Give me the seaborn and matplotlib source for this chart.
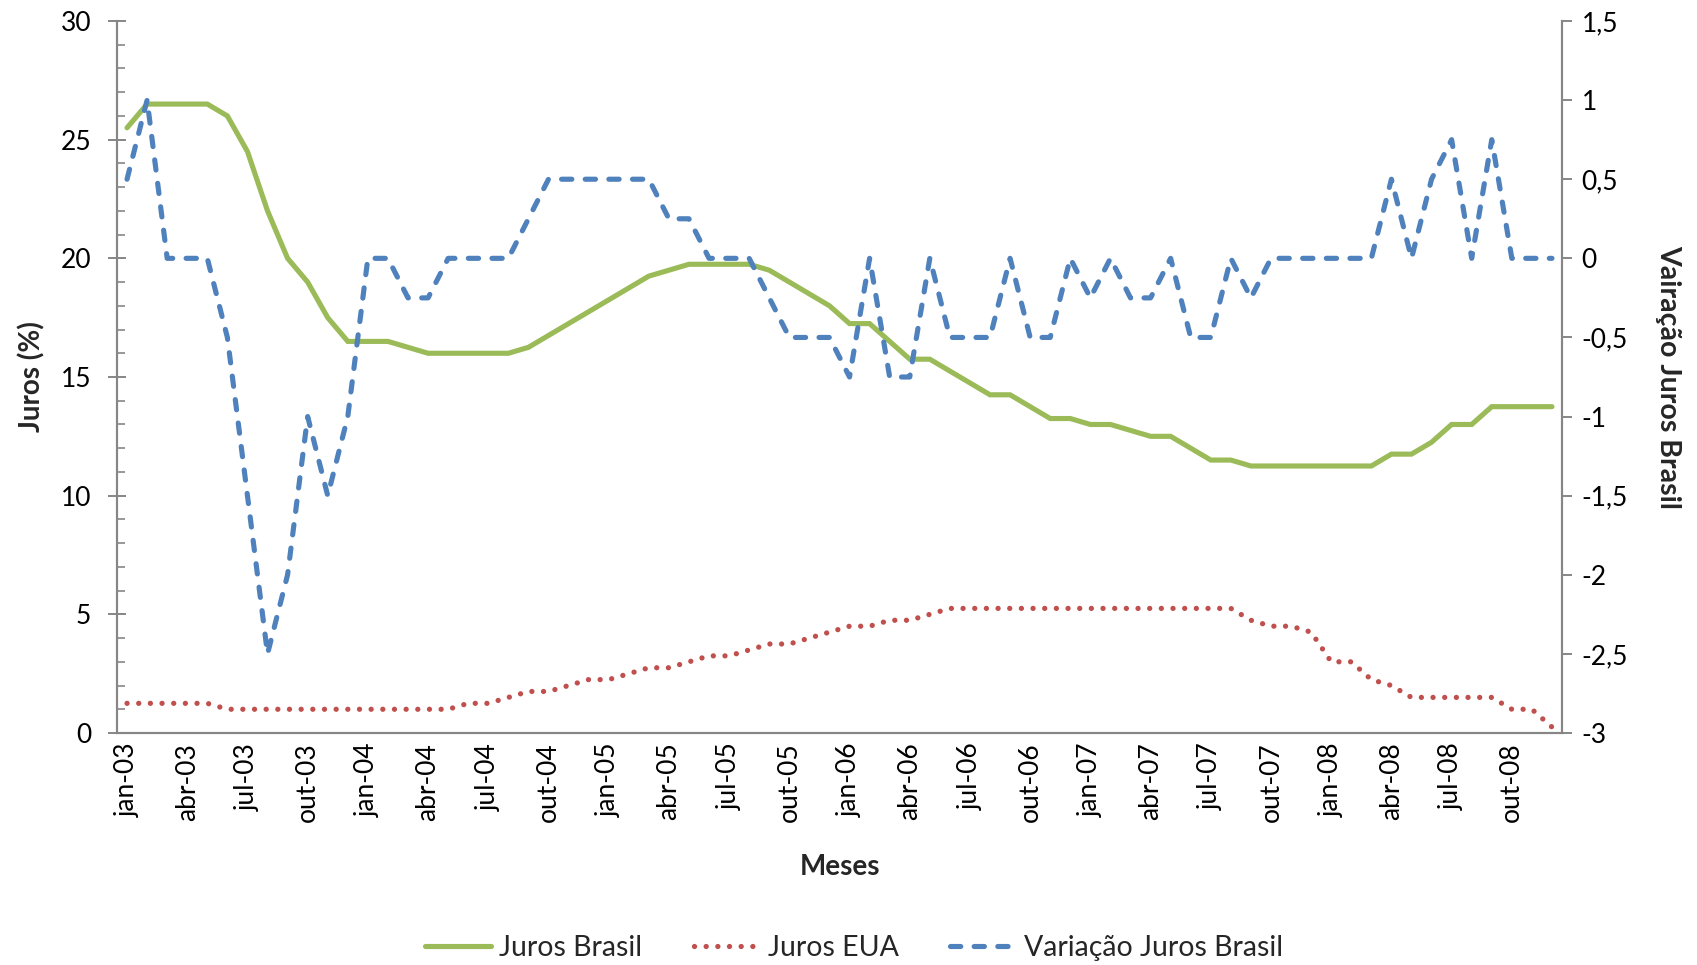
import numpy as np
import pandas as pd
import matplotlib
matplotlib.use("Agg")
import matplotlib.pyplot as plt
from matplotlib.ticker import MultipleLocator, FuncFormatter
from matplotlib.lines import Line2D
import seaborn as sns

# Month labels (Portuguese abbreviations), jan-03 .. dez-08
meses_abrev = ["jan", "fev", "mar", "abr", "mai", "jun",
               "jul", "ago", "set", "out", "nov", "dez"]
anos = ["03", "04", "05", "06", "07", "08"]
meses = [f"{m}-{a}" for a in anos for m in meses_abrev]

# Selic rate (%)
juros_brasil = [
    25.5, 26.5, 26.5, 26.5, 26.5, 26.0, 24.5, 22.0, 20.0, 19.0, 17.5, 16.5,
    16.5, 16.5, 16.25, 16.0, 16.0, 16.0, 16.0, 16.0, 16.25, 16.75, 17.25, 17.75,
    18.25, 18.75, 19.25, 19.5, 19.75, 19.75, 19.75, 19.75, 19.5, 19.0, 18.5, 18.0,
    17.25, 17.25, 16.5, 15.75, 15.75, 15.25, 14.75, 14.25, 14.25, 13.75, 13.25, 13.25,
    13.0, 13.0, 12.75, 12.5, 12.5, 12.0, 11.5, 11.5, 11.25, 11.25, 11.25, 11.25,
    11.25, 11.25, 11.25, 11.75, 11.75, 12.25, 13.0, 13.0, 13.75, 13.75, 13.75, 13.75,
]

# US federal funds rate (%)
juros_eua = [
    1.25, 1.25, 1.25, 1.25, 1.25, 1.0, 1.0, 1.0, 1.0, 1.0, 1.0, 1.0,
    1.0, 1.0, 1.0, 1.0, 1.0, 1.25, 1.25, 1.5, 1.75, 1.75, 2.0, 2.25,
    2.25, 2.5, 2.75, 2.75, 3.0, 3.25, 3.25, 3.5, 3.75, 3.75, 4.0, 4.25,
    4.5, 4.5, 4.75, 4.75, 5.0, 5.25, 5.25, 5.25, 5.25, 5.25, 5.25, 5.25,
    5.25, 5.25, 5.25, 5.25, 5.25, 5.25, 5.25, 5.25, 4.75, 4.5, 4.5, 4.25,
    3.0, 3.0, 2.25, 2.0, 1.5, 1.5, 1.5, 1.5, 1.5, 1.0, 1.0, 0.25,
]

# Monthly change of the Selic rate (p.p.)
variacao_juros_brasil = [
    0.5, 1.0, 0.0, 0.0, 0.0, -0.5, -1.5, -2.5, -2.0, -1.0, -1.5, -1.0,
    0.0, 0.0, -0.25, -0.25, 0.0, 0.0, 0.0, 0.0, 0.25, 0.5, 0.5, 0.5,
    0.5, 0.5, 0.5, 0.25, 0.25, 0.0, 0.0, 0.0, -0.25, -0.5, -0.5, -0.5,
    -0.75, 0.0, -0.75, -0.75, 0.0, -0.5, -0.5, -0.5, 0.0, -0.5, -0.5, 0.0,
    -0.25, 0.0, -0.25, -0.25, 0.0, -0.5, -0.5, 0.0, -0.25, 0.0, 0.0, 0.0,
    0.0, 0.0, 0.0, 0.5, 0.0, 0.5, 0.75, 0.0, 0.75, 0.0, 0.0, 0.0,
]

verde = "#9BBB59"
vermelho = "#C0504D"
azul = "#4F81BD"
cinza = "#868686"

df = pd.DataFrame({
    "pos": np.arange(len(meses)),
    "mes": meses,
    "Juros Brasil": juros_brasil,
    "Juros EUA": juros_eua,
    "Variação Juros Brasil": variacao_juros_brasil,
})

sns.set_theme(style="white")
plt.rcParams["font.family"] = ["Lato", "DejaVu Sans"]
plt.rcParams["axes.unicode_minus"] = False

W, H = 1697, 965
fig = plt.figure(figsize=(W / 100, H / 100), dpi=100)
x0, x1, y0, y1 = 117, 1562, 21, 733
ax = fig.add_axes([x0 / W, 1 - y1 / H, (x1 - x0) / W, (y1 - y0) / H])
ax2 = ax.twinx()

sns.lineplot(data=df, x="pos", y="Juros Brasil", ax=ax, color=verde,
             linewidth=3.7, label="Juros Brasil", legend=False)
sns.lineplot(data=df, x="pos", y="Juros EUA", ax=ax, color=vermelho,
             linewidth=3.8, label="Juros EUA", legend=False)
sns.lineplot(data=df, x="pos", y="Variação Juros Brasil", ax=ax2, color=azul,
             linewidth=3.7, label="Variação Juros Brasil", legend=False)

l_br, l_eua = ax.get_lines()[0], ax.get_lines()[1]
l_var = ax2.get_lines()[0]
l_br.set_solid_joinstyle("miter")
l_eua.set_dashes((0.01, 2.2))
l_eua.set_dash_capstyle("round")
l_var.set_dashes((2.0, 2.6))
l_var.set_dash_capstyle("round")
l_var.set_dash_joinstyle("round")

# Axes ranges and ticks
ax.set_xlim(-0.5, len(meses) - 0.5)
ax.set_ylim(0, 30)
ax2.set_ylim(-3, 1.5)
ax.set_xticks(np.arange(0, len(meses), 3))
ax.set_xticklabels(meses[::3], rotation=90)
ax.yaxis.set_major_locator(MultipleLocator(5))
ax.yaxis.set_minor_locator(MultipleLocator(1))
ax2.yaxis.set_major_locator(MultipleLocator(0.5))
ax2.yaxis.set_major_formatter(FuncFormatter(
    lambda v, p: (f"{v:g}").replace(".", ",")))

for a in (ax, ax2):
    a.set_xlabel("")
    a.set_ylabel("")
    a.grid(False)
    for s in a.spines.values():
        s.set_color(cinza)
        s.set_linewidth(1.5)
    a.spines["top"].set_visible(False)

ax.tick_params(axis="x", length=0, pad=7, labelsize=19, labelcolor="black")
ax.tick_params(axis="y", which="major", direction="inout", length=13,
               width=1.4, color=cinza, labelsize=19, pad=12,
               labelcolor="black", left=True)
ax.tick_params(axis="y", which="minor", direction="in", length=6,
               width=1.2, color=cinza, left=True)
ax2.tick_params(axis="y", which="major", direction="out", length=7,
                width=1.4, color=cinza, labelsize=19, pad=7,
                labelcolor="black", right=True)

# Axis titles
fig.text(32 / W, 1 - 377 / H, "Juros (%)", rotation=90, ha="center",
         va="center", fontsize=20, fontweight="bold")
fig.text(1668 / W, 1 - 377 / H, "Vairação Juros Brasil", rotation=270,
         ha="center", va="center", fontsize=20.5, fontweight="bold")
fig.text(840 / W, 1 - 867 / H, "Meses", ha="center", va="center",
         fontsize=20, fontweight="bold")

# Legend
handles = [
    Line2D([], [], color=verde, linewidth=3.7),
    Line2D([], [], color=vermelho, linewidth=3.8, dashes=(0.01, 2.2),
           dash_capstyle="round"),
    Line2D([], [], color=azul, linewidth=3.7, dashes=(2.0, 2.6),
           dash_capstyle="round"),
]
fig.legend(handles, ["Juros Brasil", "Juros EUA", "Variação Juros Brasil"],
           loc="center", bbox_to_anchor=(854 / W, 1 - 948 / H), ncol=3,
           frameon=False, fontsize=20.5, handlelength=2.3, handletextpad=0.3,
           columnspacing=1.8)

fig.savefig("out.png", dpi=100, facecolor="white")
